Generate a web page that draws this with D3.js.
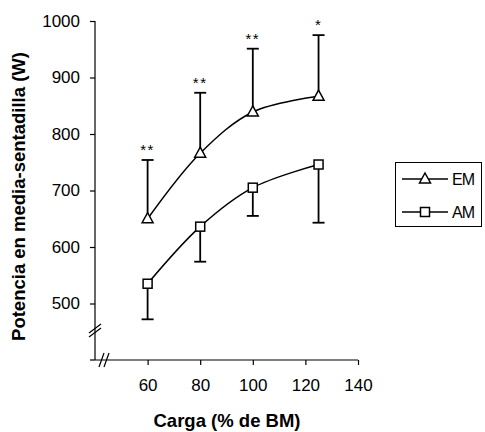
<!DOCTYPE html>
<html><head><meta charset="utf-8">
<script src="https://cdn.jsdelivr.net/npm/d3@7"></script>
<style>body{margin:0;background:#fff}svg{display:block}text{font-family:"Liberation Sans",Arial,sans-serif}</style>
</head><body><svg id="c" width="485" height="432"></svg>
<script>
const loads = [60, 80, 100, 125];
const emMean = [650, 766, 839, 867];
const emUpper = [754, 873, 951, 975];
const amMean = [535, 636, 705, 746];
const amLower = [472, 574, 655, 643];
const emSig = ["**", "**", "**", "*"];
const xTicks = [60, 80, 100, 120, 140];
const yTicks = [500, 600, 700, 800, 900, 1000];

const svg = d3.select("#c");
const x = d3.scaleLinear().domain([40, 140]).range([95, 358]);
const y = d3.scaleLinear().domain([400, 1000]).range([360, 21]);

// y axis
const ya = svg.append("g").attr("transform", "translate(95,0)")
  .call(d3.axisLeft(y).tickValues(yTicks).tickSize(5).tickPadding(10).tickFormat(d3.format("d")));
ya.select(".domain").attr("d", "M0," + y(1000) + "V360").attr("stroke", "#000").attr("stroke-width", 1.2);
ya.selectAll("line").attr("stroke-width", 1.2);
ya.selectAll("text").attr("font-size", 17).attr("fill", "#000");
// bottom-left tick
svg.append("line").attr("x1", 90).attr("x2", 95).attr("y1", 360).attr("y2", 360).attr("stroke", "#000").attr("stroke-width", 1.2);

// x axis
const xa = svg.append("g").attr("transform", "translate(0,360)")
  .call(d3.axisBottom(x).tickValues(xTicks).tickSize(5).tickPadding(14).tickFormat(d3.format("d")));
xa.select(".domain").attr("d", "M95,0H358").attr("stroke", "#000").attr("stroke-width", 1.2);
xa.selectAll("line").attr("stroke-width", 1.2);
xa.selectAll("text").attr("font-size", 17).attr("fill", "#000");

// break marks
const brk = svg.append("g").attr("stroke", "#000").attr("stroke-width", 1.2);
brk.append("line").attr("x1", 89).attr("y1", 333).attr("x2", 101).attr("y2", 324);
brk.append("line").attr("x1", 89).attr("y1", 337).attr("x2", 101).attr("y2", 328);
brk.append("line").attr("x1", 99).attr("y1", 367).attr("x2", 104).attr("y2", 353);
brk.append("line").attr("x1", 104).attr("y1", 367).attr("x2", 109).attr("y2", 353);

// axis titles
svg.append("text").attr("transform", "translate(25,196.5) rotate(-90)").attr("text-anchor", "middle")
  .attr("font-size", 18.5).attr("font-weight", "bold").text("Potencia en media-sentadilla (W)");
svg.append("text").attr("x", 227).attr("y", 427).attr("text-anchor", "middle")
  .attr("font-size", 18.5).attr("font-weight", "bold").text("Carga (% de BM)");

const line = d3.line().x(d => x(d[0])).y(d => y(d[1])).curve(d3.curveCatmullRom.alpha(0.5));
const em = loads.map((l, i) => [l, emMean[i]]);
const am = loads.map((l, i) => [l, amMean[i]]);

// error bars
const eb = svg.append("g").attr("stroke", "#000").attr("stroke-width", 1.8);
loads.forEach((l, i) => {
  eb.append("line").attr("x1", x(l)).attr("x2", x(l)).attr("y1", y(emMean[i])).attr("y2", y(emUpper[i]));
  eb.append("line").attr("x1", x(l) - 6).attr("x2", x(l) + 6).attr("y1", y(emUpper[i])).attr("y2", y(emUpper[i]));
  eb.append("line").attr("x1", x(l)).attr("x2", x(l)).attr("y1", y(amMean[i])).attr("y2", y(amLower[i]));
  eb.append("line").attr("x1", x(l) - 6).attr("x2", x(l) + 6).attr("y1", y(amLower[i])).attr("y2", y(amLower[i]));
});

svg.append("path").datum(em).attr("d", line).attr("fill", "none").attr("stroke", "#000").attr("stroke-width", 1.5);
svg.append("path").datum(am).attr("d", line).attr("fill", "none").attr("stroke", "#000").attr("stroke-width", 1.5);

const tri = "M0,-6L5.5,4L-5.5,4Z";
svg.selectAll(".tri").data(em).enter().append("path")
  .attr("transform", d => `translate(${x(d[0])},${y(d[1])})`).attr("d", tri)
  .attr("fill", "#fff").attr("stroke", "#000").attr("stroke-width", 1.5);
svg.selectAll(".sq").data(am).enter().append("rect")
  .attr("x", d => x(d[0]) - 4.5).attr("y", d => y(d[1]) - 4.5).attr("width", 9).attr("height", 9)
  .attr("fill", "#fff").attr("stroke", "#000").attr("stroke-width", 1.5);

// significance
svg.selectAll(".sig").data(loads).enter().append("text")
  .attr("x", d => x(d)).attr("y", (d, i) => y(emUpper[i]) - 5).attr("text-anchor", "middle")
  .attr("font-size", 15).attr("letter-spacing", 1.5).text((d, i) => emSig[i]);

// legend
const lg = svg.append("g");
lg.append("rect").attr("x", 395.5).attr("y", 162.5).attr("width", 86).attr("height", 64)
  .attr("fill", "#fff").attr("stroke", "#000").attr("stroke-width", 1);
[["EM", 179, "tri"], ["AM", 212, "sq"]].forEach(([name, ly, m]) => {
  lg.append("line").attr("x1", 402).attr("x2", 448).attr("y1", ly).attr("y2", ly).attr("stroke", "#000").attr("stroke-width", 1.5);
  if (m === "tri") lg.append("path").attr("d", tri).attr("transform", `translate(425,${ly})`).attr("fill", "#fff").attr("stroke", "#000").attr("stroke-width", 1.5);
  else lg.append("rect").attr("x", 420.5).attr("y", ly - 4.5).attr("width", 9).attr("height", 9).attr("fill", "#fff").attr("stroke", "#000").attr("stroke-width", 1.5);
  lg.append("text").attr("x", 452).attr("y", ly + 5.5).attr("font-size", 16).attr("letter-spacing", -1).text(name);
});
</script></body></html>
